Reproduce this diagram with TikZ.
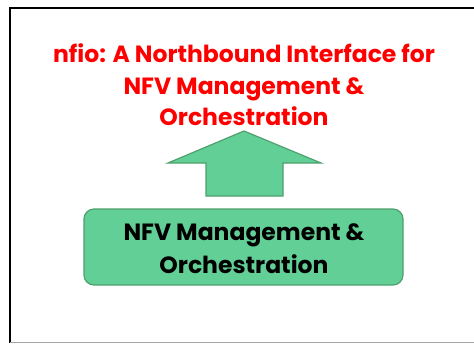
\documentclass[tikz,border=0pt]{standalone}
\usepackage{fontspec}
\setmainfont[Ligatures={NoCommon}]{Poppins}
\begin{document}
\begin{tikzpicture}[x=1pt,y=-1pt,
  ttl/.style={text=red,font=\fontsize{23.5}{28}\selectfont\bfseries,anchor=base,inner sep=0pt},
  btx/.style={text=black,font=\fontsize{23.5}{28}\selectfont\bfseries,anchor=base,inner sep=0pt},
  greenfill/.style={fill=boxgreen,draw=boxedge,line width=1.2pt}]
\definecolor{boxgreen}{RGB}{98,208,150}
\definecolor{boxedge}{RGB}{78,160,110}
\useasboundingbox (0,0) rectangle (474,343);
\fill[white] (0,0) rectangle (474,343);
% frame
\draw[black,line width=2pt] (10,343) -- (10,8) -- (474,8);
\draw[gray!70,line width=1pt] (10,342) -- (474,342);
% title
\node[ttl] (t1) at (244,62) {nfio: A Northbound Interface for};
\node[ttl] (t2) at (244,94) {NFV Management \&};
\node[ttl] (t3) at (244,125) {Orchestration};
% arrow
\draw[greenfill,line join=miter] (244,131) -- (321,163) -- (283,163) -- (283,196) -- (206,196) -- (206,163) -- (168,163) -- cycle;
% box
\draw[greenfill,rounded corners=10pt] (84,209) rectangle (403,285);
\node[btx] (b1) at (244,240) {NFV Management \&};
\node[btx] (b2) at (244,273) {Orchestration};
\end{tikzpicture}
\end{document}
